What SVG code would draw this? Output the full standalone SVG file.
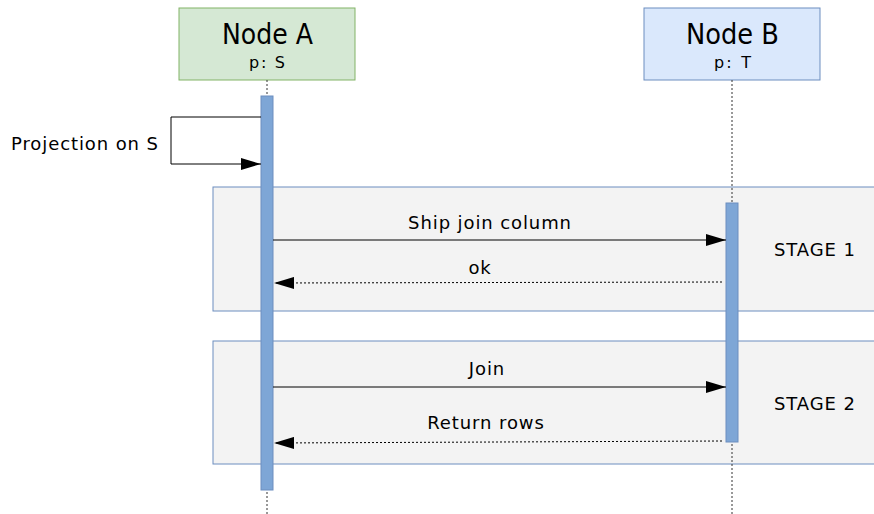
<svg xmlns="http://www.w3.org/2000/svg" width="874" height="514" viewBox="0 0 874 514">
<defs>
<style>
text{font-family:"DejaVu Sans",Verdana,sans-serif;fill:#000}
.lbl{font-size:18px;letter-spacing:0.9px}
.title{font-size:27.5px}
.sub{font-size:16px}
.life{stroke:#333;stroke-width:1;stroke-dasharray:2 2;fill:none}
.act{fill:#7ea6d6;stroke:#6c8ebf;stroke-width:1}
.stage{fill:#f3f3f3;stroke:#6c8ebf;stroke-width:1}
.msg{stroke:#000;stroke-width:1;fill:none}
.ret{stroke:#000;stroke-width:1;fill:none;stroke-dasharray:2 2}
</style>
<marker id="ah2" viewBox="0 0 20 12" refX="20" refY="6" markerWidth="20" markerHeight="12" markerUnits="userSpaceOnUse" orient="auto"><path d="M0,0 L20,6 L0,12 Z" fill="#000"/></marker>
</defs>
<g id="stage1"><rect class="stage" x="213" y="187" width="670" height="124"/><text class="lbl" x="774" y="256">STAGE 1</text></g>
<g id="stage2"><rect class="stage" x="213" y="341" width="670" height="123"/><text class="lbl" x="774" y="410">STAGE 2</text></g>
<g id="nodeA">
<rect x="179" y="8" width="176" height="72" fill="#d5e8d4" stroke="#82b366"/>
<text class="title" x="222" y="44" textLength="91" lengthAdjust="spacingAndGlyphs">Node A</text>
<text class="sub" x="249" y="68" textLength="36" lengthAdjust="spacing">p: S</text>
<line class="life" x1="267" y1="80" x2="267" y2="514"/>
<rect class="act" x="261" y="96" width="12" height="394"/>
</g>
<g id="nodeB">
<rect x="644" y="8" width="176" height="72" fill="#dae8fc" stroke="#6c8ebf"/>
<text class="title" x="686" y="44" textLength="93" lengthAdjust="spacingAndGlyphs">Node B</text>
<text class="sub" x="714" y="68" textLength="37" lengthAdjust="spacing">p: T</text>
<line class="life" x1="732" y1="80" x2="732" y2="514"/>
<rect class="act" x="726" y="203" width="12" height="239"/>
</g>
<g id="connectors">
<path class="msg" d="M261,117 H171 V164 H261" marker-end="url(#ah2)"/>
<text class="lbl" x="11" y="150">Projection on S</text>
<line class="msg" x1="273" y1="240" x2="726" y2="240" marker-end="url(#ah2)"/>
<text class="lbl" x="490" y="229" text-anchor="middle">Ship join column</text>
<line class="ret" x1="722" y1="282" x2="274" y2="283" marker-end="url(#ah2)"/>
<text class="lbl" x="480" y="274" text-anchor="middle">ok</text>
<line class="msg" x1="273" y1="387" x2="726" y2="387" marker-end="url(#ah2)"/>
<text class="lbl" x="487" y="375" text-anchor="middle">Join</text>
<line class="ret" x1="722" y1="441" x2="274" y2="443" marker-end="url(#ah2)"/>
<text class="lbl" x="486" y="429" text-anchor="middle">Return rows</text>
</g>
</svg>
